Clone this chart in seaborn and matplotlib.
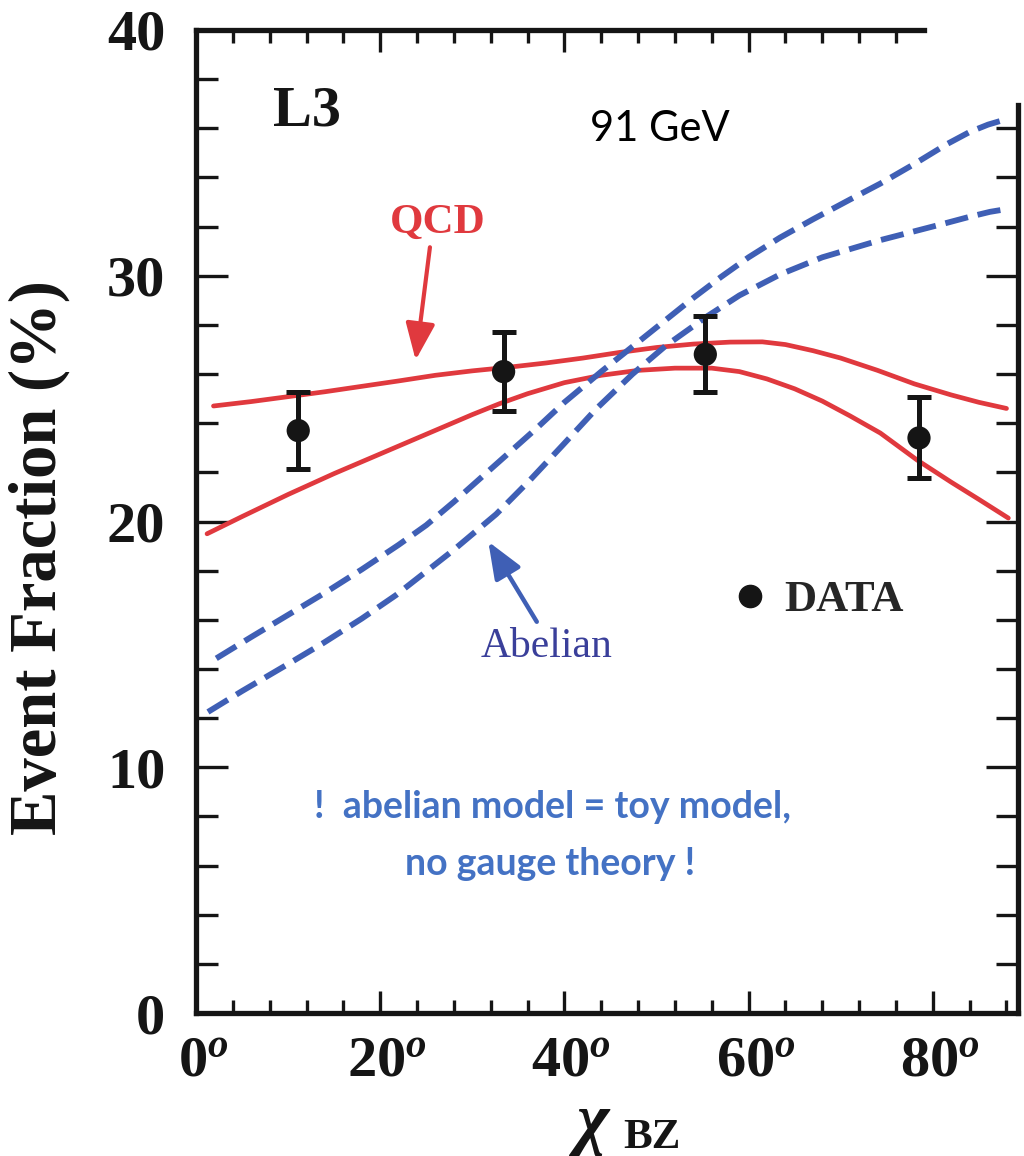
import numpy as np
import matplotlib
matplotlib.use("Agg")
import matplotlib.pyplot as plt
from matplotlib.ticker import MultipleLocator, FixedLocator
from matplotlib.transforms import ScaledTranslation
from matplotlib.lines import Line2D
import seaborn as sns

# ---- measured event fractions (L3, 91 GeV) ----
data_chi = [11.1, 33.4, 55.3, 78.5]
data_frac = [23.7, 26.1, 26.8, 23.4]
data_err = [1.55, 1.6, 1.55, 1.65]

# ---- QCD predictions (two curves) ----
qcd_hi_chi = [1.9, 6, 10, 14, 18, 22, 26, 30, 34, 38, 42, 46, 50, 54, 58, 61.5,
              64, 67, 70, 74, 78, 82, 85, 88]
qcd_hi_frac = [24.7, 24.88, 25.08, 25.28, 25.5, 25.72, 25.95, 26.13, 26.28, 26.45,
               26.65, 26.88, 27.08, 27.22, 27.3, 27.31, 27.2, 26.95, 26.65, 26.15,
               25.6, 25.15, 24.85, 24.6]
qcd_lo_chi = [1.2, 5, 10, 15, 20, 25, 30, 33, 36, 40, 44, 48, 52, 56, 59, 62, 65,
              68, 71, 74.3, 78.3, 82, 85, 88.2]
qcd_lo_frac = [19.5, 20.2, 21.1, 21.95, 22.75, 23.55, 24.35, 24.8, 25.2, 25.65,
               25.95, 26.15, 26.24, 26.24, 26.1, 25.8, 25.4, 24.9, 24.3, 23.6,
               22.5, 21.6, 20.9, 20.14]

# ---- abelian toy-model predictions (two curves) ----
abel_hi_chi = [2.2, 6, 10, 14, 18, 22, 25, 28, 31, 34, 37, 40, 44, 47.5, 51, 54,
               57, 60, 63.4, 67, 71, 74.3, 78, 81.5, 84, 86, 87.8]
abel_hi_frac = [14.43, 15.3, 16.2, 17.1, 18.05, 19.05, 19.85, 20.8, 21.8, 22.8,
                23.8, 24.85, 26.1, 27.15, 28.2, 29.1, 29.95, 30.75, 31.55, 32.3,
                33.1, 33.75, 34.55, 35.35, 35.85, 36.15, 36.35]
abel_lo_chi = [1.3, 5, 10, 13.8, 18, 21.7, 24.6, 28, 32.6, 36.3, 39.8, 43.5, 47.4,
               51, 55.5, 59, 63.4, 68, 74.3, 81, 84, 86.2, 87.8]
abel_lo_frac = [12.25, 13.1, 14.2, 15.05, 16.05, 17.0, 17.85, 18.85, 20.3, 21.7,
                23.1, 24.6, 26.0, 27.15, 28.35, 29.2, 30.05, 30.75, 31.45, 32.1,
                32.4, 32.6, 32.7]

x_major = [0, 20, 40, 60, 80]
x_labels = ["0", "20", "40", "60", "80"]
y_major = [0, 10, 20, 30, 40]
y_labels = ["0", "10", "20", "30", "40"]

RED = "#E0393E"
BLUE = "#3F5FB5"
ABEL_TXT = "#3A3F9A"
NOTE = "#4472C4"
INK = "#151515"

sns.set_theme(style="white")
plt.rcParams["font.family"] = ["Liberation Serif", "DejaVu Serif"]
plt.rcParams["font.weight"] = "bold"
plt.rcParams["mathtext.fontset"] = "custom"
plt.rcParams["mathtext.rm"] = "Liberation Serif:bold"
plt.rcParams["mathtext.it"] = "Liberation Serif:italic:bold"
plt.rcParams["mathtext.bf"] = "Liberation Serif:bold"

fig = plt.figure(figsize=(10.24, 11.56), dpi=100)
ax = fig.add_axes([196 / 1024, 1 - 1013 / 1156, (1018 - 196) / 1024, (1013 - 30) / 1156])
ax.set_xlim(0, 89.25)
ax.set_ylim(0, 40)

# theory curves
line_kw = dict(ax=ax, sort=False, solid_capstyle="round", solid_joinstyle="round")
sns.lineplot(x=qcd_hi_chi, y=qcd_hi_frac, color=RED, lw=3.4, **line_kw)
sns.lineplot(x=qcd_lo_chi, y=qcd_lo_frac, color=RED, lw=3.4, **line_kw)
sns.lineplot(x=abel_hi_chi, y=abel_hi_frac, color=BLUE, lw=4.2, **line_kw)
ax.lines[-1].set_dashes((4.0, 1.7))
sns.lineplot(x=abel_lo_chi, y=abel_lo_frac, color=BLUE, lw=4.2, **line_kw)
ax.lines[-1].set_dashes((4.0, 1.7))

# data with error bars
ax.errorbar(data_chi, data_frac, yerr=data_err, fmt="none", ecolor=INK,
            elinewidth=3.6, capsize=8.5, capthick=3.6, zorder=5)
sns.scatterplot(x=data_chi, y=data_frac, ax=ax, color=INK, s=280,
                edgecolor="none", zorder=6)

# spines and ticks
for side in ("top", "right"):
    ax.spines[side].set_visible(False)
for side in ("left", "bottom"):
    ax.spines[side].set_linewidth(3.8)
    ax.spines[side].set_color(INK)

ax.set_xticks(x_major)
ax.set_xticklabels([s + r"$^{o}$" for s in x_labels])
ax.xaxis.set_minor_locator(MultipleLocator(4))
ax.set_yticks(y_major)
ax.set_yticklabels(y_labels)
ax.yaxis.set_minor_locator(MultipleLocator(2))
ax.tick_params(axis="x", which="major", direction="in", length=16, width=2.4,
               labelsize=42, pad=16, color=INK, labelcolor=INK)
ax.tick_params(axis="x", which="minor", direction="in", length=9.5, width=2.4, color=INK)
ax.tick_params(axis="y", which="major", direction="in", length=23, width=2.4,
               labelsize=42, pad=22, color=INK, labelcolor=INK)
ax.tick_params(axis="y", which="minor", direction="in", length=15.5, width=2.4, color=INK)
ax.tick_params(left=True, bottom=True, top=False, right=False, which="both")
# keep the digits centred on their ticks, degree mark hanging to the right
for lab in ax.get_xticklabels():
    lab.set_transform(lab.get_transform() + ScaledTranslation(0.07, 0, fig.dpi_scale_trans))

top = ax.secondary_xaxis("top")
top.set_xticks([0, 20, 40, 60])
top.xaxis.set_minor_locator(FixedLocator([v for v in range(4, 80, 4) if v % 20]))
top.tick_params(axis="x", which="major", direction="in", length=16, width=2.4,
                labeltop=False, color=INK)
top.tick_params(axis="x", which="minor", direction="in", length=9.5, width=2.4, color=INK)
top.spines["top"].set_linewidth(3.8)
top.spines["top"].set_color(INK)
top.spines["top"].set_bounds(0, 79)

right = ax.secondary_yaxis("right")
right.set_yticks([0, 10, 20, 30])
right.yaxis.set_minor_locator(FixedLocator([v for v in range(2, 38, 2) if v % 10]))
right.tick_params(axis="y", which="major", direction="in", length=23, width=2.4,
                  labelright=False, color=INK)
right.tick_params(axis="y", which="minor", direction="in", length=15.5, width=2.4, color=INK)
right.spines["right"].set_linewidth(3.8)
right.spines["right"].set_color(INK)
right.spines["right"].set_bounds(0, 36.95)

# axis titles
ax.set_ylabel("Event Fraction (%)", fontsize=48, fontweight="bold", color=INK)
ax.yaxis.set_label_coords(-0.153, 0.463)
ax.set_xlabel("χ", fontsize=50, fontweight="bold", fontstyle="italic", color=INK)
ax.xaxis.set_label_coords(0.482, -0.080)
ax.text(0.5195, -0.1372, "BZ", transform=ax.transAxes, fontsize=31,
        fontweight="bold", color=INK, ha="left", va="baseline")

# annotations
ax.text(8.4, 36.1, "L3", fontsize=42, fontweight="bold", color=INK)
ax.text(42.8, 35.5, "91 GeV", fontsize=30, fontweight="normal",
        family=["Lato", "DejaVu Sans"], color="black")
ax.text(26.2, 31.73, "QCD", fontsize=31, fontweight="bold", color=RED, ha="center")
ax.annotate("", xy=(23.85, 26.57), xytext=(25.4, 31.16),
            arrowprops=dict(arrowstyle="-|>,head_length=1.5,head_width=0.6",
                            color=RED, lw=3, mutation_scale=15, shrinkA=0, shrinkB=0))
ax.text(38.05, 14.48, "Abelian", fontsize=30, fontweight="normal", color=ABEL_TXT, ha="center")
ax.annotate("", xy=(31.74, 19.18), xytext=(37.0, 15.92),
            arrowprops=dict(arrowstyle="-|>,head_length=1.5,head_width=0.6",
                            color=BLUE, lw=3.2, mutation_scale=15, shrinkA=0, shrinkB=0))

ax.legend(handles=[Line2D([], [], marker="o", ls="", color=INK, ms=16)],
          labels=["DATA"], loc="center left", bbox_to_anchor=(0.6588, 0.420),
          frameon=False, handlelength=0.55, handletextpad=0.5, borderpad=0,
          borderaxespad=0, prop=dict(family="Liberation Serif", weight="bold", size=32))

note_font = dict(fontsize=27, fontweight="bold", color=NOTE, ha="center",
                 family=["Lato", "DejaVu Sans"])
ax.text(38.7, 7.93, "!  abelian model = toy model,", **note_font)
ax.text(38.4, 5.61, "no gauge theory !", **note_font)

fig.savefig("out.png", dpi=100)
